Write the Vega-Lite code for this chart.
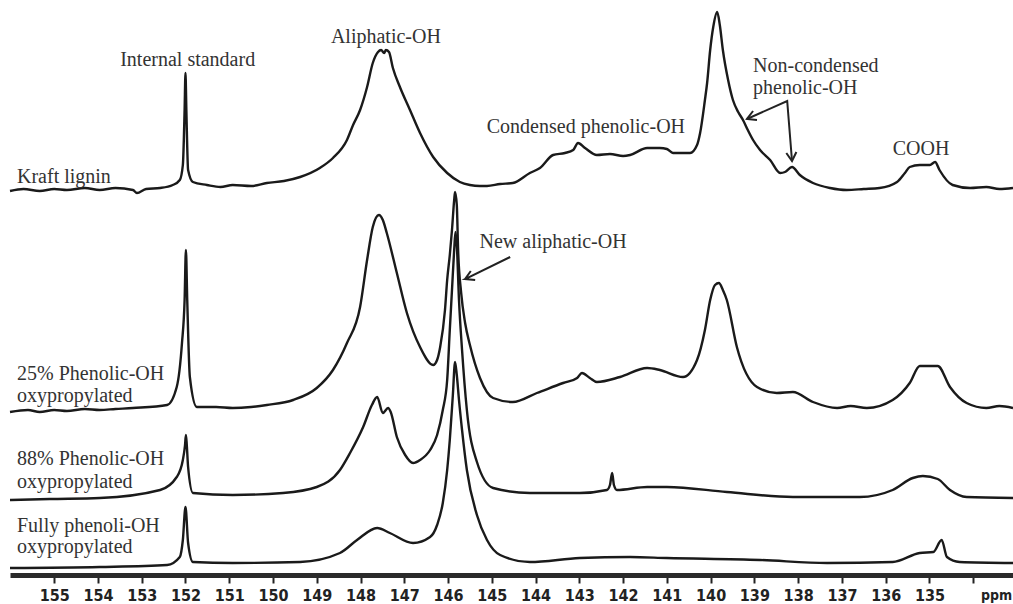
{
  "$schema": "https://vega.github.io/schema/vega-lite/v6.json",
  "width": 1003,
  "height": 573,
  "autosize": {"type": "none"},
  "padding": {"left": 10, "top": 0, "right": 0, "bottom": 31},
  "background": "white",
  "config": {"view": {"stroke": null}},
  "datasets": {
    "spectra": [
      {"s":"kraft","ppm":156.01,"h":382},{"s":"kraft","ppm":155.7,"h":384},{"s":"kraft","ppm":155.33,"h":382},{"s":"kraft","ppm":155.0,"h":384},{"s":"kraft","ppm":154.71,"h":383},{"s":"kraft","ppm":154.3,"h":385},{"s":"kraft","ppm":153.96,"h":383},{"s":"kraft","ppm":153.6,"h":385},{"s":"kraft","ppm":153.2,"h":383},{"s":"kraft","ppm":153.11,"h":380},{"s":"kraft","ppm":152.9,"h":384},{"s":"kraft","ppm":152.58,"h":385},{"s":"kraft","ppm":152.29,"h":388},{"s":"kraft","ppm":152.13,"h":393},{"s":"kraft","ppm":152.06,"h":408},{"s":"kraft","ppm":152.02,"h":463},{"s":"kraft","ppm":152.0,"h":500},{"s":"kraft","ppm":151.98,"h":463},{"s":"kraft","ppm":151.94,"h":403},{"s":"kraft","ppm":151.83,"h":391},{"s":"kraft","ppm":151.51,"h":388},{"s":"kraft","ppm":151.2,"h":386},{"s":"kraft","ppm":150.92,"h":388},{"s":"kraft","ppm":150.5,"h":387},{"s":"kraft","ppm":150.14,"h":390},{"s":"kraft","ppm":149.75,"h":392},{"s":"kraft","ppm":149.38,"h":396},{"s":"kraft","ppm":148.93,"h":405},{"s":"kraft","ppm":148.63,"h":415},{"s":"kraft","ppm":148.31,"h":433},{"s":"kraft","ppm":148.17,"h":448},{"s":"kraft","ppm":148.01,"h":463},{"s":"kraft","ppm":147.85,"h":486},{"s":"kraft","ppm":147.72,"h":510},{"s":"kraft","ppm":147.6,"h":521},{"s":"kraft","ppm":147.53,"h":523},{"s":"kraft","ppm":147.46,"h":520},{"s":"kraft","ppm":147.42,"h":523},{"s":"kraft","ppm":147.35,"h":521},{"s":"kraft","ppm":147.26,"h":505},{"s":"kraft","ppm":147.1,"h":486},{"s":"kraft","ppm":146.87,"h":463},{"s":"kraft","ppm":146.64,"h":440},{"s":"kraft","ppm":146.34,"h":416},{"s":"kraft","ppm":146.02,"h":400},{"s":"kraft","ppm":145.73,"h":391},{"s":"kraft","ppm":145.5,"h":388},{"s":"kraft","ppm":145.27,"h":387},{"s":"kraft","ppm":145.11,"h":387},{"s":"kraft","ppm":144.81,"h":389},{"s":"kraft","ppm":144.52,"h":390},{"s":"kraft","ppm":144.13,"h":400},{"s":"kraft","ppm":143.9,"h":405},{"s":"kraft","ppm":143.6,"h":418},{"s":"kraft","ppm":143.33,"h":420},{"s":"kraft","ppm":143.14,"h":423},{"s":"kraft","ppm":143.03,"h":430},{"s":"kraft","ppm":142.87,"h":425},{"s":"kraft","ppm":142.6,"h":418},{"s":"kraft","ppm":142.3,"h":419},{"s":"kraft","ppm":142.0,"h":417},{"s":"kraft","ppm":141.84,"h":418},{"s":"kraft","ppm":141.45,"h":425},{"s":"kraft","ppm":141.16,"h":425},{"s":"kraft","ppm":141.0,"h":424},{"s":"kraft","ppm":140.86,"h":420},{"s":"kraft","ppm":140.47,"h":420},{"s":"kraft","ppm":140.31,"h":428},{"s":"kraft","ppm":140.24,"h":440},{"s":"kraft","ppm":140.13,"h":473},{"s":"kraft","ppm":140.08,"h":490},{"s":"kraft","ppm":140.01,"h":523},{"s":"kraft","ppm":139.94,"h":546},{"s":"kraft","ppm":139.85,"h":561},{"s":"kraft","ppm":139.79,"h":548},{"s":"kraft","ppm":139.72,"h":523},{"s":"kraft","ppm":139.6,"h":493},{"s":"kraft","ppm":139.49,"h":473},{"s":"kraft","ppm":139.37,"h":461},{"s":"kraft","ppm":139.26,"h":453},{"s":"kraft","ppm":139.15,"h":443},{"s":"kraft","ppm":139.03,"h":433},{"s":"kraft","ppm":138.87,"h":423},{"s":"kraft","ppm":138.64,"h":413},{"s":"kraft","ppm":138.41,"h":400},{"s":"kraft","ppm":138.3,"h":401},{"s":"kraft","ppm":138.14,"h":406},{"s":"kraft","ppm":137.96,"h":398},{"s":"kraft","ppm":137.66,"h":390},{"s":"kraft","ppm":137.27,"h":385},{"s":"kraft","ppm":136.89,"h":383},{"s":"kraft","ppm":136.5,"h":384},{"s":"kraft","ppm":136.14,"h":385},{"s":"kraft","ppm":135.74,"h":391},{"s":"kraft","ppm":135.56,"h":400},{"s":"kraft","ppm":135.45,"h":406},{"s":"kraft","ppm":135.22,"h":408},{"s":"kraft","ppm":134.99,"h":408},{"s":"kraft","ppm":134.87,"h":411},{"s":"kraft","ppm":134.77,"h":403},{"s":"kraft","ppm":134.47,"h":388},{"s":"kraft","ppm":134.07,"h":385},{"s":"kraft","ppm":133.7,"h":386},{"s":"kraft","ppm":133.4,"h":384},{"s":"kraft","ppm":133.09,"h":385},

      {"s":"p25","ppm":156.01,"h":161},{"s":"p25","ppm":155.6,"h":163},{"s":"p25","ppm":155.33,"h":161},{"s":"p25","ppm":155.0,"h":163},{"s":"p25","ppm":154.71,"h":162},{"s":"p25","ppm":154.3,"h":164},{"s":"p25","ppm":153.96,"h":163},{"s":"p25","ppm":153.6,"h":164},{"s":"p25","ppm":153.2,"h":165},{"s":"p25","ppm":152.42,"h":168},{"s":"p25","ppm":152.2,"h":186},{"s":"p25","ppm":152.08,"h":230},{"s":"p25","ppm":152.02,"h":273},{"s":"p25","ppm":151.99,"h":323},{"s":"p25","ppm":151.96,"h":273},{"s":"p25","ppm":151.9,"h":196},{"s":"p25","ppm":151.74,"h":166},{"s":"p25","ppm":151.3,"h":166},{"s":"p25","ppm":150.92,"h":165},{"s":"p25","ppm":150.5,"h":166},{"s":"p25","ppm":150.14,"h":168},{"s":"p25","ppm":149.54,"h":173},{"s":"p25","ppm":149.0,"h":185},{"s":"p25","ppm":148.63,"h":203},{"s":"p25","ppm":148.31,"h":230},{"s":"p25","ppm":148.01,"h":266},{"s":"p25","ppm":147.85,"h":313},{"s":"p25","ppm":147.72,"h":346},{"s":"p25","ppm":147.58,"h":358},{"s":"p25","ppm":147.49,"h":353},{"s":"p25","ppm":147.4,"h":340},{"s":"p25","ppm":147.17,"h":300},{"s":"p25","ppm":146.94,"h":260},{"s":"p25","ppm":146.64,"h":226},{"s":"p25","ppm":146.34,"h":208},{"s":"p25","ppm":146.25,"h":213},{"s":"p25","ppm":146.18,"h":226},{"s":"p25","ppm":146.07,"h":263},{"s":"p25","ppm":146.02,"h":293},{"s":"p25","ppm":145.96,"h":318},{"s":"p25","ppm":145.91,"h":343},{"s":"p25","ppm":145.86,"h":373},{"s":"p25","ppm":145.84,"h":381},{"s":"p25","ppm":145.8,"h":368},{"s":"p25","ppm":145.77,"h":323},{"s":"p25","ppm":145.7,"h":280},{"s":"p25","ppm":145.61,"h":250},{"s":"p25","ppm":145.5,"h":228},{"s":"p25","ppm":145.27,"h":195},{"s":"p25","ppm":144.97,"h":175},{"s":"p25","ppm":144.52,"h":171},{"s":"p25","ppm":143.97,"h":180},{"s":"p25","ppm":143.37,"h":190},{"s":"p25","ppm":143.05,"h":195},{"s":"p25","ppm":142.94,"h":200},{"s":"p25","ppm":142.76,"h":195},{"s":"p25","ppm":142.6,"h":191},{"s":"p25","ppm":142.07,"h":196},{"s":"p25","ppm":141.45,"h":205},{"s":"p25","ppm":141.16,"h":203},{"s":"p25","ppm":140.63,"h":196},{"s":"p25","ppm":140.31,"h":213},{"s":"p25","ppm":140.13,"h":243},{"s":"p25","ppm":140.01,"h":273},{"s":"p25","ppm":139.9,"h":288},{"s":"p25","ppm":139.81,"h":290},{"s":"p25","ppm":139.72,"h":283},{"s":"p25","ppm":139.63,"h":273},{"s":"p25","ppm":139.4,"h":226},{"s":"p25","ppm":138.94,"h":186},{"s":"p25","ppm":138.49,"h":180},{"s":"p25","ppm":138.12,"h":181},{"s":"p25","ppm":137.66,"h":171},{"s":"p25","ppm":137.11,"h":165},{"s":"p25","ppm":136.8,"h":167},{"s":"p25","ppm":136.43,"h":165},{"s":"p25","ppm":135.84,"h":173},{"s":"p25","ppm":135.45,"h":190},{"s":"p25","ppm":135.22,"h":207},{"s":"p25","ppm":134.81,"h":207},{"s":"p25","ppm":134.53,"h":186},{"s":"p25","ppm":134.15,"h":170},{"s":"p25","ppm":133.7,"h":165},{"s":"p25","ppm":133.4,"h":167},{"s":"p25","ppm":133.09,"h":165},

      {"s":"p88","ppm":156.01,"h":73},{"s":"p88","ppm":155.1,"h":74},{"s":"p88","ppm":153.96,"h":75},{"s":"p88","ppm":152.58,"h":83},{"s":"p88","ppm":152.2,"h":96},{"s":"p88","ppm":152.06,"h":113},{"s":"p88","ppm":152.01,"h":128},{"s":"p88","ppm":151.99,"h":138},{"s":"p88","ppm":151.97,"h":128},{"s":"p88","ppm":151.94,"h":106},{"s":"p88","ppm":151.83,"h":80},{"s":"p88","ppm":150.92,"h":78},{"s":"p88","ppm":149.77,"h":80},{"s":"p88","ppm":149.0,"h":86},{"s":"p88","ppm":148.47,"h":103},{"s":"p88","ppm":148.24,"h":120},{"s":"p88","ppm":147.94,"h":146},{"s":"p88","ppm":147.74,"h":168},{"s":"p88","ppm":147.62,"h":176},{"s":"p88","ppm":147.49,"h":160},{"s":"p88","ppm":147.37,"h":165},{"s":"p88","ppm":147.31,"h":161},{"s":"p88","ppm":147.17,"h":136},{"s":"p88","ppm":146.98,"h":118},{"s":"p88","ppm":146.8,"h":110},{"s":"p88","ppm":146.64,"h":113},{"s":"p88","ppm":146.41,"h":123},{"s":"p88","ppm":146.25,"h":138},{"s":"p88","ppm":146.12,"h":163},{"s":"p88","ppm":146.02,"h":193},{"s":"p88","ppm":145.96,"h":243},{"s":"p88","ppm":145.91,"h":283},{"s":"p88","ppm":145.86,"h":323},{"s":"p88","ppm":145.83,"h":341},{"s":"p88","ppm":145.8,"h":328},{"s":"p88","ppm":145.75,"h":273},{"s":"p88","ppm":145.68,"h":223},{"s":"p88","ppm":145.57,"h":163},{"s":"p88","ppm":145.34,"h":111},{"s":"p88","ppm":144.97,"h":85},{"s":"p88","ppm":144.13,"h":80},{"s":"p88","ppm":142.99,"h":80},{"s":"p88","ppm":142.37,"h":83},{"s":"p88","ppm":142.3,"h":88},{"s":"p88","ppm":142.25,"h":100},{"s":"p88","ppm":142.21,"h":88},{"s":"p88","ppm":142.14,"h":83},{"s":"p88","ppm":141.45,"h":86},{"s":"p88","ppm":141.0,"h":86},{"s":"p88","ppm":139.63,"h":81},{"s":"p88","ppm":138.12,"h":76},{"s":"p88","ppm":136.59,"h":76},{"s":"p88","ppm":135.84,"h":83},{"s":"p88","ppm":135.38,"h":95},{"s":"p88","ppm":135.15,"h":97},{"s":"p88","ppm":134.81,"h":94},{"s":"p88","ppm":134.53,"h":83},{"s":"p88","ppm":134.15,"h":76},{"s":"p88","ppm":133.09,"h":75},

      {"s":"full","ppm":156.01,"h":5},{"s":"full","ppm":153.96,"h":6},{"s":"full","ppm":152.42,"h":8},{"s":"full","ppm":152.13,"h":16},{"s":"full","ppm":152.06,"h":33},{"s":"full","ppm":152.0,"h":66},{"s":"full","ppm":151.94,"h":30},{"s":"full","ppm":151.83,"h":11},{"s":"full","ppm":150.92,"h":10},{"s":"full","ppm":149.38,"h":11},{"s":"full","ppm":148.47,"h":20},{"s":"full","ppm":148.08,"h":33},{"s":"full","ppm":147.62,"h":45},{"s":"full","ppm":147.33,"h":40},{"s":"full","ppm":146.8,"h":30},{"s":"full","ppm":146.41,"h":36},{"s":"full","ppm":146.25,"h":48},{"s":"full","ppm":146.12,"h":70},{"s":"full","ppm":146.02,"h":103},{"s":"full","ppm":145.96,"h":133},{"s":"full","ppm":145.89,"h":178},{"s":"full","ppm":145.84,"h":211},{"s":"full","ppm":145.8,"h":198},{"s":"full","ppm":145.75,"h":173},{"s":"full","ppm":145.68,"h":143},{"s":"full","ppm":145.57,"h":103},{"s":"full","ppm":145.34,"h":58},{"s":"full","ppm":145.11,"h":33},{"s":"full","ppm":144.81,"h":18},{"s":"full","ppm":144.13,"h":11},{"s":"full","ppm":142.99,"h":15},{"s":"full","ppm":141.84,"h":16},{"s":"full","ppm":141.0,"h":15},{"s":"full","ppm":138.87,"h":13},{"s":"full","ppm":137.34,"h":10},{"s":"full","ppm":135.84,"h":11},{"s":"full","ppm":135.22,"h":20},{"s":"full","ppm":134.91,"h":21},{"s":"full","ppm":134.72,"h":33},{"s":"full","ppm":134.6,"h":16},{"s":"full","ppm":134.31,"h":11},{"s":"full","ppm":133.09,"h":10}
    ],
    "arrows": [
      {"id":"a1","o":1,"ppm":144.58,"h":316},{"id":"a1","o":2,"ppm":145.61,"h":294},{"id":"a1","o":3,"ppm":145.38,"h":293},{"id":"a1","o":4,"ppm":145.61,"h":294},{"id":"a1","o":5,"ppm":145.48,"h":302},
      {"id":"a2","o":1,"ppm":138.94,"h":453},{"id":"a2","o":2,"ppm":139.17,"h":454},{"id":"a2","o":3,"ppm":139.03,"h":462},
      {"id":"a2s","o":1,"ppm":139.17,"h":454},{"id":"a2s","o":2,"ppm":138.25,"h":472},{"id":"a2s","o":3,"ppm":138.14,"h":412},
      {"id":"a3","o":1,"ppm":138.04,"h":421},{"id":"a3","o":2,"ppm":138.14,"h":412},{"id":"a3","o":3,"ppm":138.27,"h":420}
    ],
    "centered": [
      {"t":"Internal standard","ppm":151.95,"h":507},
      {"t":"Aliphatic-OH","ppm":147.42,"h":530},
      {"t":"Condensed phenolic-OH","ppm":142.85,"h":440},
      {"t":"COOH","ppm":135.19,"h":418},
      {"t":"New aliphatic-OH","ppm":143.6,"h":325}
    ],
    "lefttext": [
      {"t":"Non-condensed","ppm":139.03,"h":501},
      {"t":"phenolic-OH","ppm":139.03,"h":479},
      {"t":"Kraft lignin","ppm":155.85,"h":390},
      {"t":"25% Phenolic-OH","ppm":155.85,"h":193},
      {"t":"oxypropylated","ppm":155.85,"h":171},
      {"t":"88% Phenolic-OH","ppm":155.85,"h":108},
      {"t":"oxypropylated","ppm":155.85,"h":85},
      {"t":"Fully phenoli-OH","ppm":155.85,"h":41},
      {"t":"oxypropylated","ppm":155.85,"h":20}
    ],
    "unit": [{"t":"ppm","ppm":133.82,"h":-27}]
  },
  "layer": [
    {
      "data": {"name": "spectra"},
      "mark": {"type": "line", "color": "#1a1a1a", "strokeWidth": 2.4, "strokeJoin": "round", "interpolate": "monotone"},
      "encoding": {
        "x": {"field": "ppm", "type": "quantitative", "scale": {"domain": [133.09, 156.01], "reverse": true, "nice": false, "zero": false},
          "axis": {"orient": "bottom", "title": null, "values": [155,154,153,152,151,150,149,148,147,146,145,144,143,142,141,140,139,138,137,136,135,134],
            "labelExpr": "datum.value == 134 ? '' : datum.label", "format": "d", "grid": false, "offset": 2,
            "domainColor": "#2a2a2a", "domainWidth": 5, "tickColor": "#222", "tickWidth": 2, "tickSize": 8,
            "labelFont": "Liberation Sans Narrow, DejaVu Sans Condensed, sans-serif", "labelFontWeight": "bold", "labelFontSize": 16,
            "labelColor": "#222", "labelPadding": 4, "labelOverlap": false, "labelFlush": false}},
        "y": {"field": "h", "type": "quantitative", "scale": {"domain": [0, 573], "nice": false, "zero": false}, "axis": null},
        "detail": {"field": "s"}
      }
    },
    {
      "data": {"name": "arrows"},
      "mark": {"type": "line", "color": "#222", "strokeWidth": 2, "strokeJoin": "miter"},
      "encoding": {
        "x": {"field": "ppm", "type": "quantitative"},
        "y": {"field": "h", "type": "quantitative"},
        "detail": {"field": "id"},
        "order": {"field": "o", "type": "quantitative"}
      }
    },
    {
      "data": {"name": "centered"},
      "mark": {"type": "text", "align": "center", "baseline": "alphabetic", "font": "Liberation Serif", "fontSize": 20, "color": "#333"},
      "encoding": {
        "x": {"field": "ppm", "type": "quantitative"},
        "y": {"field": "h", "type": "quantitative"},
        "text": {"field": "t"}
      }
    },
    {
      "data": {"name": "lefttext"},
      "mark": {"type": "text", "align": "left", "baseline": "alphabetic", "font": "Liberation Serif", "fontSize": 20, "color": "#333"},
      "encoding": {
        "x": {"field": "ppm", "type": "quantitative"},
        "y": {"field": "h", "type": "quantitative"},
        "text": {"field": "t"}
      }
    },
    {
      "data": {"name": "unit"},
      "mark": {"type": "text", "align": "left", "baseline": "alphabetic", "font": "Liberation Sans Narrow, DejaVu Sans Condensed, sans-serif", "fontWeight": "bold", "fontSize": 14, "color": "#222"},
      "encoding": {
        "x": {"field": "ppm", "type": "quantitative"},
        "y": {"field": "h", "type": "quantitative"},
        "text": {"field": "t"}
      }
    }
  ]
}
